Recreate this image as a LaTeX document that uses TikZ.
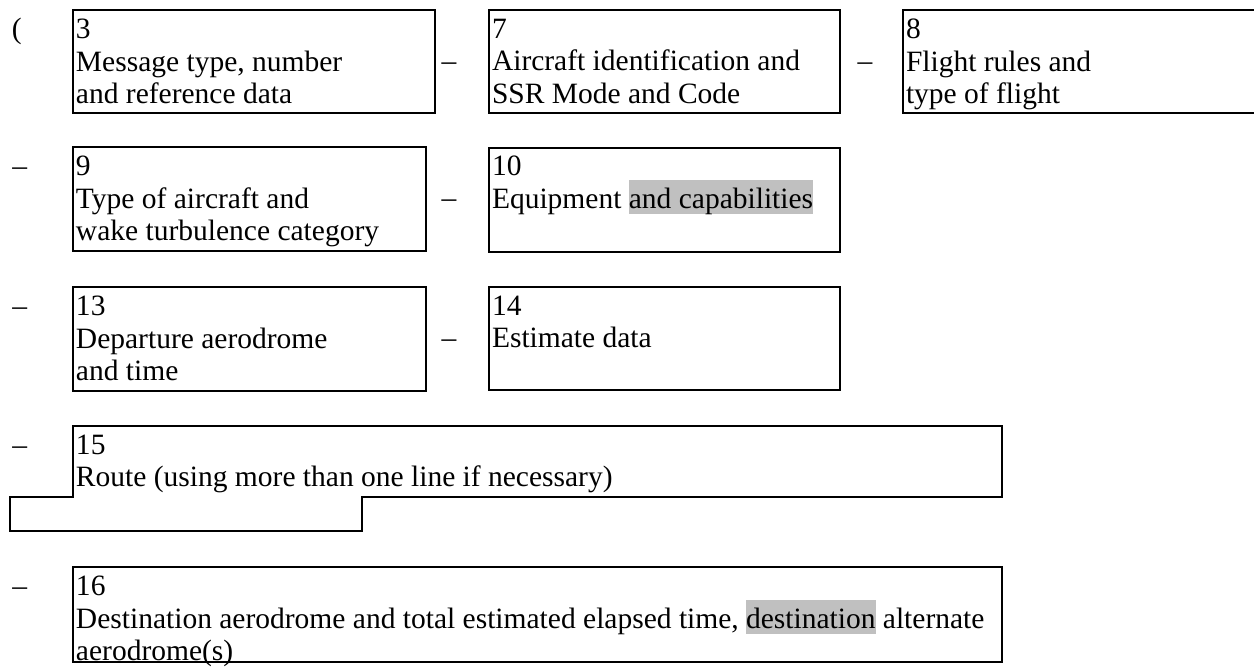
\documentclass[tikz,border=0pt]{standalone}
\usepackage{fontspec}
\setmainfont{Liberation Serif}
\usepackage{xcolor}
\definecolor{hlgray}{HTML}{C0C0C0}
\newcommand{\hlword}[1]{{\setlength{\fboxsep}{0pt}\colorbox{hlgray}{\rule[-2.4pt]{0pt}{13.6pt}#1}}}
\tikzset{
  fieldbox/.style={draw=black, line width=0.9pt},
  fieldtext/.style={anchor=north west, inner sep=0pt, align=left, font=\fontsize{11.8}{13}\selectfont},
  septext/.style={anchor=base west, inner sep=0pt, font=\fontsize{11.8}{13}\selectfont},
}
\begin{document}
\begin{tikzpicture}[x=0.4pt,y=-0.4pt]
\useasboundingbox (0,0) rectangle (1254,667);
\clip (0,0) rectangle (1254,667);
% ---------- row 1
\node[septext] (open) at (11.5,38.4) {(};
\draw[fieldbox] (73,10) rectangle (435,113);
\node[fieldtext] (t3) at (75.5,18.5) {3\\Message type, number\\and reference data};
\node[septext] (d37) at (441,70.9) {--};
\draw[fieldbox] (489,10) rectangle (840,113);
\node[fieldtext] (t7) at (491.5,18.5) {7\\Aircraft identification and\\SSR Mode and Code};
\node[septext] (d78) at (857,70.9) {--};
\draw[fieldbox] (1270,10) -- (903,10) -- (903,113) -- (1270,113);
\node[fieldtext] (t8) at (905.5,18.5) {8\\Flight rules and\\type of flight};
% ---------- row 2
\node[septext] (d9) at (12,175.4) {--};
\draw[fieldbox] (73,147) rectangle (426,251);
\node[fieldtext] (t9) at (75.5,155.5) {9\\Type of aircraft and\\wake turbulence category};
\node[septext] (d910) at (441,207.9) {--};
\draw[fieldbox] (489,148) rectangle (840,252);
\node[fieldtext] (t10) at (491.5,155.5) {10\\Equipment \hlword{and capabilities}};
% ---------- row 3
\node[septext] (d13) at (12,315.4) {--};
\draw[fieldbox] (73,287) rectangle (426,391);
\node[fieldtext] (t13) at (75.5,295.5) {13\\Departure aerodrome\\and time};
\node[septext] (d1314) at (441,347.9) {--};
\draw[fieldbox] (489,287) rectangle (840,390);
\node[fieldtext] (t14) at (491.5,295.5) {14\\Estimate data};
% ---------- row 4
\node[septext] (d15) at (12,454.4) {--};
\draw[fieldbox] (73,426) -- (1002,426) -- (1002,497) -- (362,497) -- (362,531)
  -- (10,531) -- (10,497) -- (73,497) -- cycle;
\node[fieldtext] (t15) at (75.5,434.5) {15\\Route (using more than one line if necessary)};
% ---------- row 5
\node[septext] (d16) at (12,595.4) {--};
\draw[fieldbox] (73,567) rectangle (1002,662);
\node[fieldtext] (t16) at (75.5,575.5) {16\\Destination aerodrome and total estimated elapsed time, \hlword{destination} alternate\\aerodrome(s)};
\end{tikzpicture}
\end{document}
